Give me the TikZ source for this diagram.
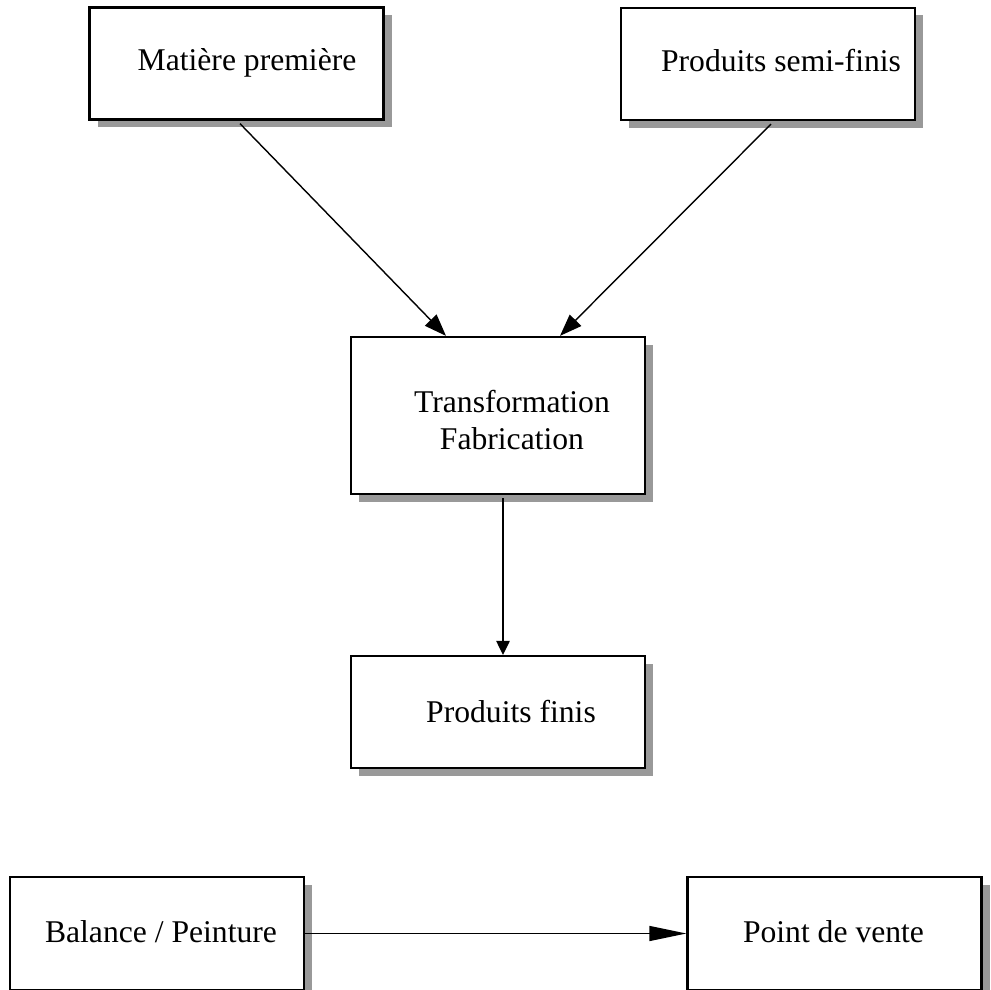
\documentclass[tikz,border=0pt]{standalone}
\usepackage{fontspec}
\setmainfont{Liberation Serif}
\usetikzlibrary{shadows,arrows.meta}

\begin{document}
\begin{tikzpicture}
	\tikzstyle{etape} = [draw=black, line width=1.3pt, fill=white, minimum width=5.88cm, minimum height=2.24cm,
		drop shadow={shadow xshift=0.16cm, shadow yshift=-0.15cm, fill=black!40, opacity=1}]
	\tikzstyle{texte} = [font=\fontsize{18}{21}\selectfont, align=center, inner sep=0pt]
	\tikzstyle{fleche} = [line width=0.8pt]

	\useasboundingbox (0,0) rectangle (19.82,-19.80);

%----------Sources------------------------------
	\node[etape] (mp) at (4.73,-1.27) {};
	\node[texte] (tmp) at (4.94,-1.26) {Matière première};

	\node[etape] (psf) at (15.36,-1.28) {};
	\node[texte] (tpsf) at (15.62,-1.22) {Produits semi-finis};

%----------Transformation------------------------------
	\node[etape, minimum height=3.14cm] (tf) at (9.96,-8.31) {};
	\node[texte] (ttf) at (10.24,-8.40) {Transformation\\Fabrication};

	\path[fleche, -{Triangle[length=0.44cm, width=0.32cm]}] ([xshift=0.07cm, yshift=-0.06cm]mp.south) edge ([xshift=-1.04cm]tf.north);
	\path[fleche, -{Triangle[length=0.44cm, width=0.32cm]}] ([xshift=0.06cm, yshift=-0.06cm]psf.south) edge ([xshift=1.24cm]tf.north);

%----------Produits finis------------------------------
	\node[etape] (pf) at (9.96,-14.24) {};
	\node[texte] (tpf) at (10.22,-14.24) {Produits finis};

	\path[fleche, -{Triangle[length=0.28cm, width=0.27cm]}] ([xshift=0.1cm, yshift=-0.06cm]tf.south) edge ([xshift=0.1cm]pf.north);

%----------Vente------------------------------
	\node[etape, minimum height=2.26cm] (bp) at (3.14,-18.67) {};
	\node[texte] (tbp) at (3.22,-18.64) {Balance / Peinture};

	\node[etape, minimum height=2.26cm] (pv) at (16.69,-18.67) {};
	\node[texte] (tpv) at (16.67,-18.64) {Point de vente};

	\path[fleche, -{Triangle[length=0.74cm, width=0.30cm]}] (bp.east) edge (pv.west);

\end{tikzpicture}
\end{document}
